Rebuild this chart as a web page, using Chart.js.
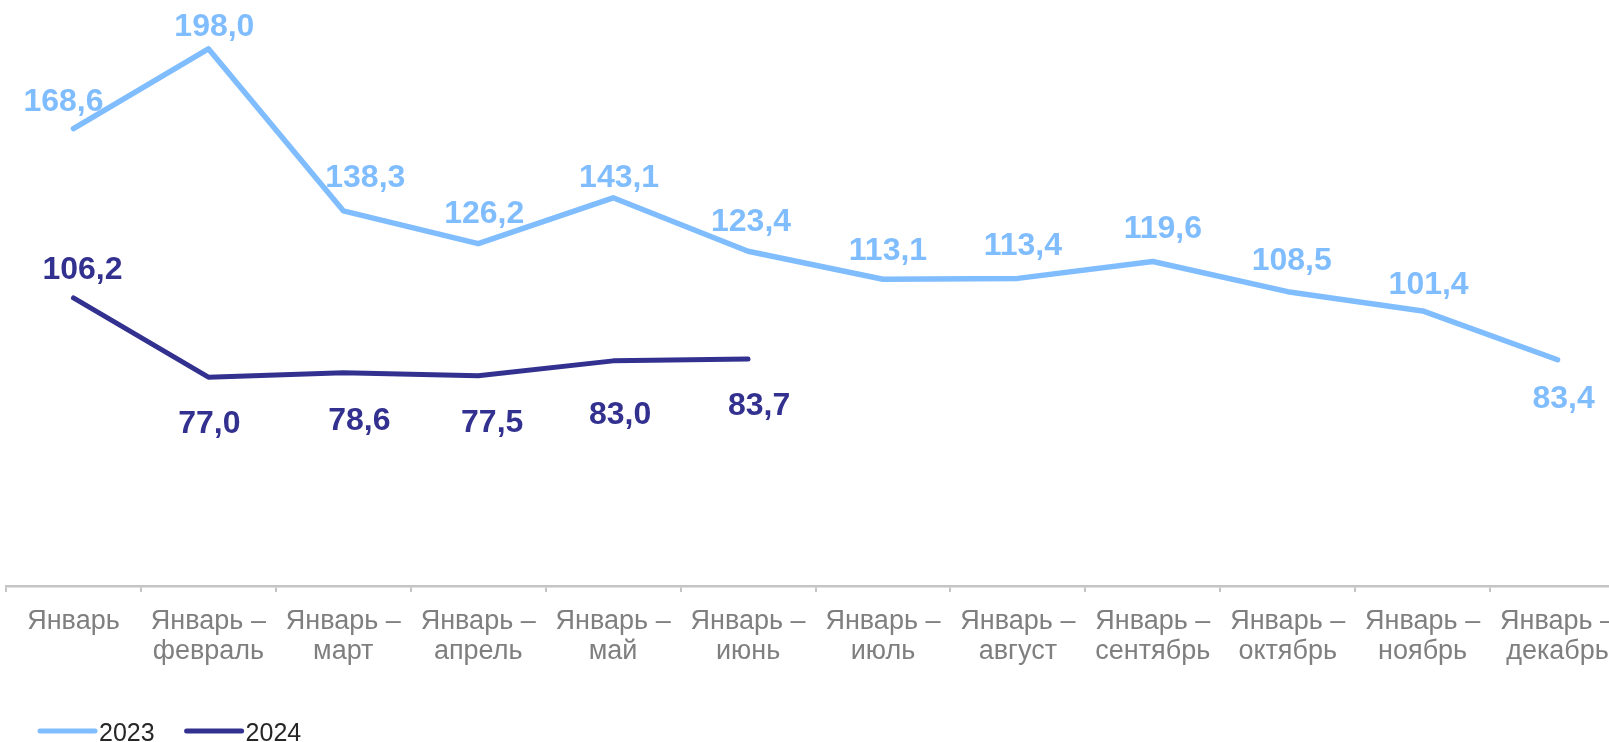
<!DOCTYPE html>
<html lang="ru">
<head>
<meta charset="utf-8">
<title>2023 / 2024</title>
<script src="https://cdn.jsdelivr.net/npm/chart.js@4.4.1/dist/chart.umd.min.js"></script>
<style>
    html, body { margin: 0; padding: 0; background: #fff; overflow: hidden; }
    #wrap { width: 1625px; height: 742px; }
</style>
</head>
<body>
<div id="wrap"><canvas id="myChart" width="1625" height="742"></canvas></div>
<script>
// Categories (multi-line tick labels)
const periods = [
    ['Январь'],
    ['Январь –', 'февраль'],
    ['Январь –', 'март'],
    ['Январь –', 'апрель'],
    ['Январь –', 'май'],
    ['Январь –', 'июнь'],
    ['Январь –', 'июль'],
    ['Январь –', 'август'],
    ['Январь –', 'сентябрь'],
    ['Январь –', 'октябрь'],
    ['Январь –', 'ноябрь'],
    ['Январь –', 'декабрь']
];

// Series values
const values2023 = [168.6, 198.0, 138.3, 126.2, 143.1, 123.4, 113.1, 113.4, 119.6, 108.5, 101.4, 83.4];
const values2024 = [106.2, 77.0, 78.6, 77.5, 83.0, 83.7, null, null, null, null, null, null];

const color2023 = '#80BDFF';
const color2024 = '#33318F';
const fontFamily = '"Liberation Sans", Arial, sans-serif';

// Value labels, drawn next to each point (dx, dy = shift of label centre from the point)
const valueLabels = {
    id: 'valueLabels',
    afterDatasetsDraw(chart, args, opts) {
        const ctx = chart.ctx;
        ctx.save();
        ctx.font = 'bold 32px ' + fontFamily;
        ctx.textAlign = 'center';
        ctx.textBaseline = 'alphabetic';
        chart.data.datasets.forEach((ds, i) => {
            const meta = chart.getDatasetMeta(i);
            const nudges = opts.nudges[i];
            ctx.fillStyle = ds.borderColor;
            meta.data.forEach((pt, j) => {
                const v = ds.data[j];
                if (v === null || v === undefined) return;
                const [dx, dy] = nudges[j];
                const text = v.toFixed(1).replace('.', ',');
                ctx.fillText(text, pt.x + dx, pt.y + dy + 11.5);
            });
        });
        ctx.restore();
    }
};

// Legend in the bottom-left corner
const bottomLegend = {
    id: 'bottomLegend',
    afterDraw(chart, args, opts) {
        const ctx = chart.ctx;
        ctx.save();
        ctx.font = '25px ' + fontFamily;
        ctx.textBaseline = 'alphabetic';
        let x = opts.x;
        chart.data.datasets.forEach(ds => {
            ctx.strokeStyle = ds.borderColor;
            ctx.lineWidth = 5;
            ctx.lineCap = 'round';
            ctx.beginPath();
            ctx.moveTo(x, opts.y);
            ctx.lineTo(x + opts.lineLength, opts.y);
            ctx.stroke();
            ctx.fillStyle = '#262626';
            ctx.fillText(ds.label, x + opts.lineLength + 4, opts.baseline);
            x += opts.lineLength + 4 + ctx.measureText(ds.label).width + opts.gap;
        });
        ctx.restore();
    }
};

const ctx = document.getElementById('myChart').getContext('2d');
const myChart = new Chart(ctx, {
    type: 'line',
    data: {
        labels: periods,
        datasets: [
            {
                label: '2023',
                data: values2023,
                borderColor: color2023,
                backgroundColor: color2023,
                borderWidth: 5.5,
                borderCapStyle: 'round',
                borderJoinStyle: 'round',
                pointRadius: 0,
                tension: 0
            },
            {
                label: '2024',
                data: values2024,
                borderColor: color2024,
                backgroundColor: color2024,
                borderWidth: 5,
                borderCapStyle: 'round',
                borderJoinStyle: 'round',
                pointRadius: 0,
                tension: 0
            }
        ]
    },
    options: {
        responsive: false,
        animation: false,
        devicePixelRatio: 1,
        layout: {
            padding: { left: 6, right: 0, top: 0, bottom: 60 }
        },
        plugins: {
            legend: { display: false },
            tooltip: { enabled: false },
            valueLabels: {
                nudges: [
                    [[-10, -29], [6, -24], [22, -35], [6, -32], [6, -22], [3, -32],
                     [5, -31], [5, -35], [10, -35], [4, -33], [6, -28], [6, 37]],
                    [[9, -30], [1, 44], [16, 46], [14, 45], [7, 52], [11, 45]]
                ]
            },
            bottomLegend: { x: 40, y: 731, lineLength: 55, baseline: 741, gap: 32 }
        },
        scales: {
            x: {
                offset: true,
                // the last label runs off the page in the original; don't shrink the axis for it
                afterFit: (scale) => {
                    scale.paddingLeft = 0;
                    scale.paddingRight = 0;
                },
                grid: {
                    offset: true,
                    drawOnChartArea: false,
                    drawTicks: true,
                    tickLength: 6,
                    color: '#C4C4C4',
                    lineWidth: 2
                },
                border: { display: true, color: '#C4C4C4', width: 2.5 },
                ticks: {
                    color: '#7F7F7F',
                    padding: 15,
                    maxRotation: 0,
                    autoSkip: false,
                    font: { family: fontFamily, size: 27, lineHeight: 1.11 }
                }
            },
            y: {
                display: false,
                min: 0,
                max: 216
            }
        }
    },
    plugins: [valueLabels, bottomLegend]
});
</script>
</body>
</html>
